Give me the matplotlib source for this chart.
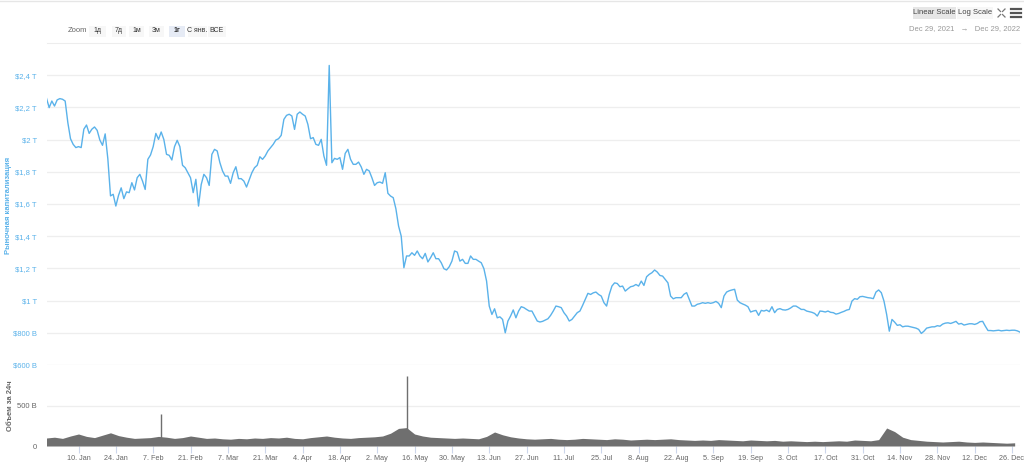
import numpy as np
import pandas as pd
import matplotlib
matplotlib.use("Agg")
import matplotlib.pyplot as plt
import matplotlib.dates as mdates
from matplotlib.patches import Rectangle
from matplotlib.lines import Line2D
from matplotlib.ticker import FuncFormatter

plt.rcParams["font.family"] = ["Liberation Sans", "DejaVu Sans"]

START = "2021-12-29"
END = "2022-12-29"

# daily market cap, trillions USD
market_cap = [
    2.256, 2.198, 2.239, 2.208, 2.246, 2.254, 2.250, 2.239, 2.105, 2.005,
    1.970, 1.950, 1.956, 1.950, 2.064, 2.090, 2.038, 2.064, 2.078, 2.057,
    1.997, 1.964, 2.035, 1.880, 1.650, 1.660, 1.587, 1.653, 1.700, 1.633,
    1.675, 1.670, 1.732, 1.687, 1.763, 1.784, 1.742, 1.690, 1.877, 1.904,
    1.956, 2.038, 2.001, 2.047, 2.000, 1.908, 1.902, 1.873, 1.956, 1.995,
    1.956, 1.840, 1.825, 1.794, 1.763, 1.670, 1.753, 1.587, 1.720, 1.784,
    1.763, 1.715, 1.908, 1.939, 1.929, 1.857, 1.805, 1.773, 1.773, 1.728,
    1.794, 1.831, 1.757, 1.757, 1.742, 1.705, 1.749, 1.794, 1.825, 1.840,
    1.893, 1.877, 1.898, 1.929, 1.950, 1.970, 1.997, 2.005, 2.026, 2.125,
    2.150, 2.157, 2.146, 2.063, 2.157, 2.171, 2.157, 2.146, 2.094, 2.005,
    2.012, 1.970, 1.964, 2.001, 1.898, 1.840, 2.460, 1.856, 1.883, 1.877,
    1.888, 1.815, 1.914, 1.939, 1.877, 1.846, 1.846, 1.860, 1.830, 1.784,
    1.815, 1.805, 1.763, 1.715, 1.732, 1.736, 1.728, 1.794, 1.666, 1.649,
    1.639, 1.570, 1.463, 1.400, 1.204, 1.277, 1.277, 1.297, 1.281, 1.308,
    1.277, 1.260, 1.293, 1.240, 1.266, 1.297, 1.260, 1.260, 1.235, 1.198,
    1.190, 1.210, 1.245, 1.308, 1.301, 1.245, 1.256, 1.231, 1.231, 1.277,
    1.256, 1.256, 1.245, 1.235, 1.198, 1.121, 0.966, 0.914, 0.949, 0.893,
    0.899, 0.883, 0.800, 0.873, 0.904, 0.942, 0.893, 0.935, 0.962, 0.956,
    0.945, 0.935, 0.935, 0.904, 0.873, 0.867, 0.871, 0.879, 0.887, 0.908,
    0.935, 0.966, 0.962, 0.956, 0.925, 0.904, 0.873, 0.883, 0.904, 0.925,
    0.935, 0.970, 1.007, 1.045, 1.038, 1.048, 1.053, 1.038, 1.028, 0.987,
    0.966, 1.038, 1.090, 1.110, 1.106, 1.086, 1.090, 1.059, 1.073, 1.086,
    1.090, 1.100, 1.090, 1.121, 1.094, 1.148, 1.163, 1.173, 1.190, 1.177,
    1.156, 1.152, 1.131, 1.110, 1.028, 1.011, 1.018, 1.018, 1.018, 1.039,
    1.049, 1.008, 0.966, 0.966, 0.977, 0.981, 0.987, 0.983, 0.987, 0.983,
    0.987, 0.995, 0.983, 0.956, 1.028, 1.053, 1.061, 1.066, 1.070, 1.003,
    0.987, 0.979, 0.972, 0.962, 0.929, 0.935, 0.939, 0.908, 0.939, 0.935,
    0.941, 0.931, 0.962, 0.925, 0.945, 0.950, 0.943, 0.941, 0.945, 0.954,
    0.966, 0.966, 0.956, 0.945, 0.945, 0.935, 0.931, 0.927, 0.920, 0.904,
    0.935, 0.933, 0.929, 0.935, 0.927, 0.925, 0.916, 0.920, 0.927, 0.933,
    0.941, 0.945, 0.997, 1.012, 1.008, 1.024, 1.026, 1.022, 1.018, 1.016,
    1.012, 1.053, 1.066, 1.049, 0.997, 0.914, 0.810, 0.883, 0.866, 0.846,
    0.850, 0.837, 0.841, 0.841, 0.837, 0.833, 0.829, 0.821, 0.796, 0.810,
    0.829, 0.833, 0.837, 0.837, 0.844, 0.841, 0.854, 0.860, 0.862, 0.858,
    0.864, 0.871, 0.854, 0.858, 0.848, 0.852, 0.856, 0.856, 0.852, 0.858,
    0.869, 0.871, 0.841, 0.814, 0.814, 0.812, 0.814, 0.816, 0.812, 0.814,
    0.816, 0.814, 0.816, 0.816, 0.812, 0.804,
]

# 24h volume every 3 days, billions USD
volume = [
    100, 110, 95, 125, 150, 120, 105, 135, 165, 130,
    110, 95, 100, 105, 120, 110, 95, 105, 125, 110,
    95, 100, 90, 85, 95, 90, 100, 95, 105, 100,
    110, 95, 90, 105, 115, 125, 110, 100, 95, 105,
    110, 115, 125, 160, 220, 230, 150, 125, 110, 105,
    100, 95, 100, 95, 90, 120, 175, 140, 115, 100,
    90, 85, 90, 95, 85, 80, 85, 95, 90, 85,
    80, 90, 85, 75, 80, 85, 80, 85, 90, 80,
    75, 70, 75, 70, 80, 75, 70, 65, 75, 70,
    65, 70, 60, 65, 60, 55, 60, 55, 60, 65,
    60, 75, 70, 65, 80, 225, 180, 110, 80, 70,
    60, 55, 50, 55, 60, 50, 45, 50, 45, 40,
    35, 40,
]
spike_dates = ["2022-02-10", "2022-05-13"]
spike_volume = [400, 875]

price_ticks = [0.6, 0.8, 1.0, 1.2, 1.4, 1.6, 1.8, 2.0, 2.2, 2.4]
price_labels = ["$600 B", "$800 B", "$1 T", "$1,2 T", "$1,4 T", "$1,6 T",
                "$1,8 T", "$2 T", "$2,2 T", "$2,4 T"]
volume_ticks = [0, 500]
volume_labels = ["0", "500 B"]

BLUE = "#5ab2ea"
GRID = "#eeeeee"
GREY_TXT = "#666666"

dates = pd.date_range(START, periods=len(market_cap), freq="D")
vol_dates = pd.date_range(START, periods=len(volume), freq="3D")
x_ticks = pd.date_range("2022-01-10", "2022-12-26", freq="14D")

W, H = 1024, 465
fig = plt.figure(figsize=(W / 100, H / 100), dpi=100)


def fx(x):
    return x / W


def fy(y):
    return 1 - y / H


ax = fig.add_axes([fx(46.5), fy(365), fx(973.5), 306 / H])
ax2 = fig.add_axes([fx(46.5), fy(446), fx(973.5), 80 / H], sharex=ax)

ax.plot(dates, market_cap, color=BLUE, lw=1.0)
ax.set_ylim(0.6, 2.5)
ax.set_yticks(price_ticks)
ax.set_yticklabels(price_labels)
ax.tick_params(axis="y", length=0, pad=7, labelsize=5.5, labelcolor=BLUE)
ax.tick_params(axis="x", bottom=False, labelbottom=False)
ax.grid(axis="y", color=GRID, lw=0.9)
ax.set_axisbelow(True)
for s in ax.spines.values():
    s.set_visible(False)

ax2.fill_between(vol_dates, volume, color="#6f6f6f", lw=0)
ax2.vlines(pd.to_datetime(spike_dates), 0, spike_volume, color="#6f6f6f", lw=1)
ax2.set_ylim(0, 1000)
ax2.set_yticks(volume_ticks)
ax2.set_yticklabels(volume_labels)
ax2.tick_params(axis="y", length=0, pad=7, labelsize=5.5, labelcolor=GREY_TXT)
ax2.grid(axis="y", color=GRID, lw=0.9)
ax2.set_axisbelow(True)
for s in ax2.spines.values():
    s.set_visible(False)
ax2.set_xlim(pd.Timestamp(START), pd.Timestamp(END))
ax2.set_xticks(x_ticks)
ax2.xaxis.set_major_formatter(FuncFormatter(
    lambda v, p: f"{mdates.num2date(v).day}. {mdates.num2date(v):%b}"))
ax2.tick_params(axis="x", length=5, color="#ccd6eb", width=0.8, pad=1.5,
                labelsize=5.2, labelcolor=GREY_TXT)

fig.text(fx(9), fy(205), "Рыночная капитализация", rotation=90, ha="center",
         va="center", fontsize=5.5, color=BLUE, fontweight="bold")
fig.text(fx(11), fy(406), "Объем за 24ч", rotation=90, ha="center",
         va="center", fontsize=5.5, color=GREY_TXT, fontweight="bold")

# top toolbar
fig.add_artist(Line2D([0, 1], [fy(1), fy(1)], color="#e6e6e6", lw=1))
fig.add_artist(Line2D([fx(47), fx(1020)], [fy(43), fy(43)], color="#ededed", lw=0.8))

fig.text(fx(68), fy(31), "Zoom", fontsize=5.5, color=GREY_TXT, va="center")
buttons = [("1д", 89, 106), ("7д", 112, 126), ("1м", 129, 144), ("3м", 149, 164),
           ("1г", 169, 185), ("С янв.", 188, 207), ("ВСЕ", 208, 226)]
for label, x0, x1 in buttons:
    sel = label == "1г"
    fig.add_artist(Rectangle((fx(x0), fy(37)), fx(x1 - x0), 11 / H,
                             transform=fig.transFigure,
                             color="#e6ebf5" if sel else "#f7f7f7", lw=0))
    fig.text(fx((x0 + x1) / 2), fy(31), label, ha="center", va="center",
             fontsize=5, color="#333333", fontweight="bold" if sel else "normal")

fig.add_artist(Rectangle((fx(913), fy(19)), fx(43), 12 / H,
                         transform=fig.transFigure, color="#e6e6e6", lw=0))
fig.add_artist(Rectangle((fx(957), fy(19)), fx(36), 12 / H,
                         transform=fig.transFigure, color="#f7f7f7", lw=0))
fig.text(fx(934.5), fy(13), "Linear Scale", ha="center", va="center",
         fontsize=5.5, color="#444444")
fig.text(fx(975), fy(13), "Log Scale", ha="center", va="center",
         fontsize=5.5, color="#444444")
# fullscreen icon (four inward arrows)
for (a, b, c, d) in [(998, 9, 1000.5, 11.5), (1005, 9, 1002.5, 11.5),
                     (998, 17, 1000.5, 14.5), (1005, 17, 1002.5, 14.5)]:
    fig.add_artist(Line2D([fx(a), fx(c)], [fy(b), fy(d)], color="#777777", lw=0.9))
# menu icon
for yy in (9, 13, 17):
    fig.add_artist(Line2D([fx(1011), fx(1021)], [fy(yy), fy(yy)],
                          color="#555555", lw=1.6))
fig.text(fx(1020), fy(29), "Dec 29, 2021   \u2192   Dec 29, 2022", ha="right",
         va="center", fontsize=5.5, color="#999999")

fig.savefig("out.png", dpi=100)
